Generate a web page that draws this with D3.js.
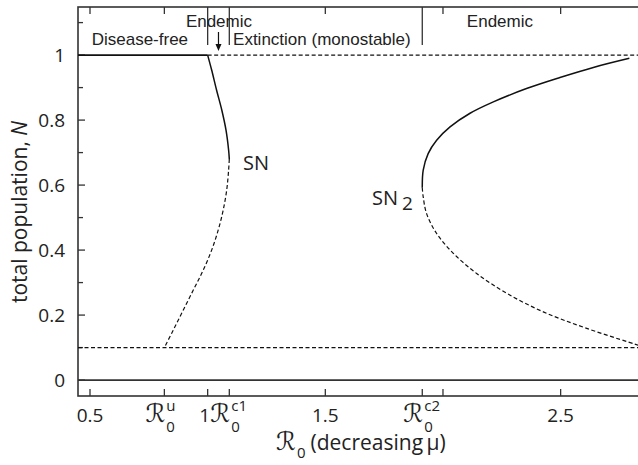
<!DOCTYPE html>
<html>
<head>
<meta charset="utf-8">
<script src="https://cdn.jsdelivr.net/npm/d3@7"></script>
<style>
  html, body { margin: 0; padding: 0; background: #fff; overflow: hidden; }
  svg { display: block; }
  .tick-label { font-family: "Open Sans", "Noto Sans", sans-serif; fill: #222; }
  .region { font-family: "Liberation Sans", Arial, sans-serif; fill: #222; }
  .script { font-family: "DejaVu Sans", "DejaVu Serif", serif; }
</style>
</head>
<body>
<svg id="chart" width="638" height="465"></svg>
<script>
// ---- data ----
const R0u = 0.816, R0c1 = 1.092, R0c2 = 1.912;

const xTickValues = [0.5, R0u, 1, R0c1, 1.5, R0c2, 2, 2.5];
const xTickNumLabels = ["0.5", null, "1", null, "1.5", null, "", "2.5"];
const xTickScriptSup = [null, "u", null, "c1", null, "c2", null, null];
const topTickValues = [0.5, R0u, 1.5, 2, 2.5];
const dividerValues = [1, R0c1, R0c2];

const yTickValues = [0, 0.2, 0.4, 0.6, 0.8, 1];
const yTickLabels = ["0", "0.2", "0.4", "0.6", "0.8", "1"];
const yMinorValues = [0.1, 0.3, 0.5, 0.7, 0.9, 1.1];

// equilibrium branches
const snUpperX = [1.000, 1.017, 1.038, 1.060, 1.078, 1.089, 1.092];
const snUpperY = [1.000, 0.954, 0.892, 0.831, 0.769, 0.708, 0.680];
const snLowerX = [1.092, 1.089, 1.081, 1.066, 1.045, 1.017, 0.981, 0.939, 0.896, 0.854, 0.816];
const snLowerY = [0.680, 0.646, 0.585, 0.523, 0.462, 0.400, 0.338, 0.277, 0.215, 0.154, 0.100];
const sn2UpperX = [1.912, 1.916, 1.937, 1.973, 2.030, 2.115, 2.214, 2.355, 2.497, 2.639, 2.792];
const sn2UpperY = [0.592, 0.646, 0.697, 0.738, 0.779, 0.821, 0.856, 0.897, 0.931, 0.962, 0.990];
const sn2LowerX = [1.912, 1.916, 1.930, 1.973, 2.044, 2.143, 2.271, 2.426, 2.611, 2.840];
const sn2LowerY = [0.592, 0.564, 0.513, 0.451, 0.390, 0.328, 0.267, 0.210, 0.159, 0.105];

// horizontal equilibria
const diseaseFreeN = 1, lowN = 0.1, extinctN = 0;

const regionLabels = [
  { text: "Disease-free", x: 0.712, row: 2 },
  { text: "Endemic", x: 1.048, row: 1 },
  { text: "Extinction (monostable)", x: 1.108, row: 2, anchor: "start" },
  { text: "Endemic", x: 2.242, row: 1 }
];

// ---- layout ----
const svg = d3.select("#chart");
const xDomain = [0.449, 2.85], yDomain = [-0.049, 1.148];
const pLeft = 78, pRight = 643, pTop = 7, pBottom = 396;
const x = d3.scaleLinear().domain(xDomain).range([pLeft, pRight]);
const y = d3.scaleLinear().domain(yDomain).range([pBottom, pTop]);

const axisColor = "#333";
const fs = (sel, size) => sel.style("font-size", size + "px");

// frame
svg.append("rect").attr("x", pLeft).attr("y", pTop)
  .attr("width", pRight - pLeft).attr("height", pBottom - pTop)
  .attr("fill", "none").attr("stroke", axisColor).attr("stroke-width", 1.6);

// bottom ticks (inward)
svg.append("g").selectAll("line").data(xTickValues).join("line")
  .attr("x1", d => x(d)).attr("x2", d => x(d))
  .attr("y1", pBottom).attr("y2", pBottom - 7)
  .attr("stroke", axisColor).attr("stroke-width", 1.3);

// top ticks (inward)
svg.append("g").selectAll("line").data(topTickValues).join("line")
  .attr("x1", d => x(d)).attr("x2", d => x(d))
  .attr("y1", pTop).attr("y2", pTop + 7)
  .attr("stroke", axisColor).attr("stroke-width", 1.3);

// region dividers
svg.append("g").selectAll("line").data(dividerValues).join("line")
  .attr("x1", d => x(d)).attr("x2", d => x(d))
  .attr("y1", pTop).attr("y2", 45)
  .attr("stroke", axisColor).attr("stroke-width", 1.3);

// left ticks
svg.append("g").selectAll("line").data(yTickValues).join("line")
  .attr("x1", pLeft).attr("x2", pLeft + 7)
  .attr("y1", d => y(d)).attr("y2", d => y(d))
  .attr("stroke", axisColor).attr("stroke-width", 1.3);
svg.append("g").selectAll("line").data(yMinorValues).join("line")
  .attr("x1", pLeft).attr("x2", pLeft + 5)
  .attr("y1", d => y(d)).attr("y2", d => y(d))
  .attr("stroke", axisColor).attr("stroke-width", 1.3);

// y tick labels
svg.append("g").selectAll("text").data(yTickValues).join("text")
  .attr("class", "tick-label").style("font-size", "19px")
  .attr("x", pLeft - 13).attr("y", d => y(d) + 7)
  .attr("text-anchor", "end")
  .text((d, i) => yTickLabels[i]);

// helper: measure text width
function measure(txt, cls, size) {
  const t = svg.append("text").attr("class", cls).style("font-size", size + "px").text(txt);
  const w = t.node().getComputedTextLength();
  t.remove();
  return w;
}

const scriptSize = 25, smallSize = 15;
const rWidth = measure("ℛ", "script", scriptSize);

// x tick labels
const xl = svg.append("g");
xTickValues.forEach((v, i) => {
  const px = x(v);
  if (xTickNumLabels[i] !== null) {
    if (xTickNumLabels[i] !== "")
      fs(xl.append("text").attr("class", "tick-label"), 19)
        .attr("x", xTickNumLabels[i] === "1" ? px - 3 : px).attr("y", 422)
        .attr("text-anchor", "middle").text(xTickNumLabels[i]);
  } else {
    const supW = measure(xTickScriptSup[i], "tick-label", smallSize);
    const t = fs(xl.append("text").attr("class", "tick-label"), 19)
      .attr("x", px + 1 - rWidth).attr("y", 422);
    fs(t.append("tspan").attr("class", "script"), scriptSize).text("ℛ");
    fs(t.append("tspan"), smallSize).attr("dx", 1).attr("dy", -11).text(xTickScriptSup[i]);
    fs(t.append("tspan"), smallSize).attr("dx", -supW).attr("dy", 21).text("0");
  }
});

// x axis title
const xt = fs(svg.append("text").attr("class", "tick-label"), 21).attr("x", 276).attr("y", 450);
fs(xt.append("tspan").attr("class", "script"), scriptSize).text("ℛ");
fs(xt.append("tspan"), 15).attr("dx", 1).attr("dy", 8).text("0");
fs(xt.append("tspan"), 21).attr("dx", 5).attr("dy", -8).text("(decreasing\u2009μ)");

// y axis title
const yt = fs(svg.append("text").attr("class", "tick-label"), 21)
  .attr("transform", "translate(27,212) rotate(-90)")
  .attr("text-anchor", "middle");
yt.append("tspan").text("total population, ");
yt.append("tspan").attr("font-style", "italic").text("N");

// region labels
svg.append("g").selectAll("text").data(regionLabels).join("text")
  .attr("class", "region").style("font-size", "17px")
  .attr("x", d => x(d.x)).attr("y", d => d.row === 1 ? 27 : 45)
  .attr("text-anchor", d => d.anchor || "middle")
  .text(d => d.text);

// arrow below middle "Endemic"
const ax = (x(1) + x(R0c1)) / 2;
svg.append("line").attr("x1", ax).attr("x2", ax).attr("y1", 32).attr("y2", 46)
  .attr("stroke", "#111").attr("stroke-width", 1.2);
svg.append("path")
  .attr("d", `M${ax - 3},${44} L${ax + 3},${44} L${ax},${51} Z`)
  .attr("fill", "#111");

// horizontal equilibria
const hline = (x0, x1, n, dashed) => svg.append("line")
  .attr("x1", x(x0)).attr("x2", x(x1)).attr("y1", y(n)).attr("y2", y(n))
  .attr("stroke", "#111").attr("stroke-width", dashed ? 1.2 : 1.6)
  .attr("stroke-dasharray", dashed ? "4,2.5" : null);
hline(xDomain[0], 1, diseaseFreeN, false);
hline(1, xDomain[1], diseaseFreeN, true);
hline(xDomain[0], xDomain[1], lowN, true);
svg.append("line")
  .attr("x1", x(xDomain[0])).attr("x2", x(xDomain[1]))
  .attr("y1", y(extinctN)).attr("y2", y(extinctN))
  .attr("stroke", axisColor).attr("stroke-width", 1.6);

// curves
const line = d3.line().x(d => x(d[0])).y(d => y(d[1])).curve(d3.curveCatmullRom.alpha(0.5));
const drawCurve = (xs, ys, dashed) => svg.append("path")
  .datum(xs.map((v, i) => [v, ys[i]]))
  .attr("d", line).attr("fill", "none").attr("stroke", "#111")
  .attr("stroke-width", dashed ? 1.2 : 1.5)
  .attr("stroke-dasharray", dashed ? "4,2.5" : null);
drawCurve(snUpperX, snUpperY, false);
drawCurve(snLowerX, snLowerY, true);
drawCurve(sn2UpperX, sn2UpperY, false);
drawCurve(sn2LowerX, sn2LowerY, true);

// curve labels
fs(svg.append("text").attr("class", "tick-label"), 20)
  .attr("x", 243).attr("y", 170).text("SN");
const sn2 = fs(svg.append("text").attr("class", "tick-label"), 20)
  .attr("x", 372).attr("y", 205);
sn2.append("tspan").text("SN");
fs(sn2.append("tspan"), 19).attr("dx", 4).attr("dy", 5).text("2");
</script>
</body>
</html>
